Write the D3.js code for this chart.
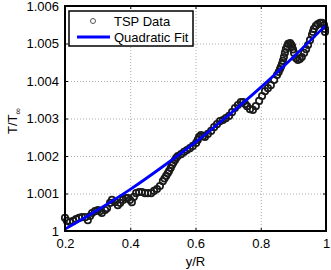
<!DOCTYPE html>
<html>
<head>
<meta charset="utf-8">
<script src="https://cdn.jsdelivr.net/npm/d3@7"></script>
<style>
  body { margin: 0; background: #fff; }
  text { font-family: "Liberation Sans", Arial, sans-serif; }
</style>
</head>
<body>
<div id="chart"></div>
<script>
// TSP data
let tspX = [0.200,0.206,0.215,0.225,0.234,0.243,0.252,0.262,0.270,0.277,0.283,0.292,0.301,0.307,0.313,0.323,0.329,0.338,0.344,0.353,
  0.362,0.369,0.378,0.387,0.393,0.399,0.405,0.411,0.418,0.427,0.436,0.445,0.454,0.464,0.473,0.482,0.491,0.500,0.505,0.510,0.515,0.519,
  0.524,0.528,0.532,0.537,0.541,0.546,0.556,0.565,0.574,0.583,0.592,0.602,0.607,0.611,0.617,0.623,0.629,0.638,0.648,0.657,0.666,0.675,0.684,0.693,
  0.703,0.712,0.721,0.730,0.739,0.746,0.752,0.758,0.767,0.776,0.785,0.795,0.804,0.813,0.822,0.831,0.841,0.850,0.855,0.859,0.862,0.865,
  0.868,0.871,0.874,0.877,0.881,0.884,0.890,0.893,0.896,0.899,0.902,0.908,0.914,0.920,0.926,0.933,0.939,0.945,0.951,0.957,0.960,0.963,0.969,0.975,0.982,0.988,
  0.994,0.997,0.997];
let tspY = [1.00035,1.00027,1.00024,1.00027,1.00032,1.00035,1.00037,1.00037,1.00029,1.00040,1.00048,1.00053,1.00056,1.00053,1.00048,1.00056,1.00061,1.00075,1.00083,1.00077,
  1.00069,1.00075,1.00083,1.00088,1.00088,1.00083,1.00077,1.00091,1.00101,1.00104,1.00104,1.00101,1.00101,1.00101,1.00107,1.00112,1.00120,1.00133,1.00140,1.00147,1.00154,1.00160,
  1.00168,1.00176,1.00182,1.00189,1.00195,1.00200,1.00205,1.00211,1.00216,1.00221,1.00227,1.00235,1.00243,1.00251,1.00256,1.00253,1.00251,1.00259,1.00267,1.00277,1.00285,1.00293,1.00296,1.00301,
  1.00307,1.00317,1.00328,1.00336,1.00344,1.00344,1.00339,1.00333,1.00325,1.00323,1.00333,1.00347,1.00360,1.00373,1.00381,1.00389,1.00403,1.00416,1.00424,1.00432,1.00438,1.00445,
  1.00454,1.00464,1.00475,1.00485,1.00493,1.00499,1.00501,1.00497,1.00493,1.00484,1.00475,1.00461,1.00456,1.00459,1.00464,1.00475,1.00485,1.00496,1.00509,1.00523,1.00531,1.00539,1.00547,1.00552,1.00555,1.00555,
  1.00549,1.00539,1.00531];

// quadratic fit
let fitX = [0.2, 0.3, 0.4, 0.5, 0.6, 0.7, 0.8, 0.9, 1.0];
let fitY = [1.00005, 1.00056, 1.00111, 1.00172, 1.00237, 1.00308, 1.00383, 1.00464, 1.00549];

let xTicks = [0.2, 0.4, 0.6, 0.8, 1];
let yTicks = [1, 1.001, 1.002, 1.003, 1.004, 1.005, 1.006];
let legendNames = ["TSP Data", "Quadratic Fit"];

let width = 331, height = 270;
let padL = 65, padR = 326, padT = 6, padB = 231;

let svg = d3.select("#chart").append("svg")
  .attr("width", width).attr("height", height);

let xScale = d3.scaleLinear().domain([0.2, 1]).range([padL, padR]);
let yScale = d3.scaleLinear().domain([1, 1.006]).range([padB, padT]);

// grid
svg.append("g")
  .attr("transform", "translate(0," + padB + ")")
  .call(d3.axisBottom(xScale).tickValues(xTicks).tickSize(-(padB - padT)).tickFormat(""))
  .call(g => g.select(".domain").remove())
  .selectAll("line").attr("stroke", "#aaa").attr("stroke-dasharray", "1,2");
svg.append("g")
  .attr("transform", "translate(" + padL + ",0)")
  .call(d3.axisLeft(yScale).tickValues(yTicks).tickSize(-(padR - padL)).tickFormat(""))
  .call(g => g.select(".domain").remove())
  .selectAll("line").attr("stroke", "#aaa").attr("stroke-dasharray", "1,2");

// TSP data circles
svg.append("g")
  .selectAll("circle")
  .data(tspX)
  .enter()
  .append("circle")
  .attr("cx", function(d){ return xScale(d); })
  .attr("cy", function(d, i){ return yScale(tspY[i]); })
  .attr("r", 3.2)
  .attr("fill", "none")
  .attr("stroke", "#1a1a1a")
  .attr("stroke-width", 1.7);

// fit line
let line = d3.line()
  .x(function(d){ return xScale(d); })
  .y(function(d, i){ return yScale(fitY[i]); })
  .curve(d3.curveMonotoneX);
svg.append("path")
  .attr("d", line(fitX))
  .attr("fill", "none")
  .attr("stroke", "#0000ff")
  .attr("stroke-width", 2.8);

// axes (ticks inside)
let xAxis = d3.axisBottom(xScale).tickValues(xTicks).tickSize(-3).tickPadding(8)
  .tickFormat(function(d){ return d3.format("")(d); });
let yAxis = d3.axisLeft(yScale).tickValues(yTicks).tickSize(-3).tickPadding(6)
  .tickFormat(function(d){ return d === 1 ? "1" : d3.format(".3f")(d); });

svg.append("g").attr("transform", "translate(0," + padB + ")").call(xAxis)
  .call(g => g.select(".domain").remove())
  .call(g => g.selectAll("text").attr("font-size", 13).attr("fill", "#000").attr("font-family", "Liberation Sans, Arial, sans-serif"))
  .call(g => g.selectAll("line").attr("stroke", "#000"));
svg.append("g").attr("transform", "translate(" + padL + ",0)").call(yAxis)
  .call(g => g.select(".domain").remove())
  .call(g => g.selectAll("text").attr("font-size", 13).attr("fill", "#000").attr("font-family", "Liberation Sans, Arial, sans-serif"))
  .call(g => g.selectAll("line").attr("stroke", "#000"));
// top and right ticks
svg.append("g").attr("transform", "translate(0," + padT + ")")
  .call(d3.axisTop(xScale).tickValues(xTicks).tickSize(-3).tickFormat(""))
  .call(g => g.select(".domain").remove());
svg.append("g").attr("transform", "translate(" + padR + ",0)")
  .call(d3.axisRight(yScale).tickValues(yTicks).tickSize(-3).tickFormat(""))
  .call(g => g.select(".domain").remove());

// box
svg.append("rect")
  .attr("x", padL).attr("y", padT)
  .attr("width", padR - padL).attr("height", padB - padT)
  .attr("fill", "none").attr("stroke", "#000").attr("stroke-width", 2);

// axis labels
svg.append("text")
  .attr("x", (padL + padR) / 2)
  .attr("y", 266)
  .attr("text-anchor", "middle")
  .attr("font-size", 13)
  .text("y/R");

let ylab = svg.append("text")
  .attr("transform", "translate(17,121) rotate(-90)")
  .attr("text-anchor", "middle")
  .attr("font-size", 13);
ylab.append("tspan").text("T/T");
ylab.append("tspan").attr("font-size", 9).attr("dy", 4).text("∞");

// legend
let lg = svg.append("g");
lg.append("rect")
  .attr("x", 69).attr("y", 11).attr("width", 124).attr("height", 35)
  .attr("fill", "#fff").attr("stroke", "#000").attr("stroke-width", 1.5);
lg.append("circle")
  .attr("cx", 93).attr("cy", 21).attr("r", 2.5)
  .attr("fill", "none").attr("stroke", "#555").attr("stroke-width", 1);
lg.append("line")
  .attr("x1", 77).attr("x2", 110).attr("y1", 37).attr("y2", 37)
  .attr("stroke", "#0000ff").attr("stroke-width", 2.8);
lg.selectAll("text.leg")
  .data(legendNames)
  .enter()
  .append("text")
  .attr("class", "leg")
  .attr("x", 114)
  .attr("y", function(d, i){ return 26 + i * 16; })
  .attr("font-size", 13)
  .text(function(d){ return d; });
</script>
</body>
</html>
